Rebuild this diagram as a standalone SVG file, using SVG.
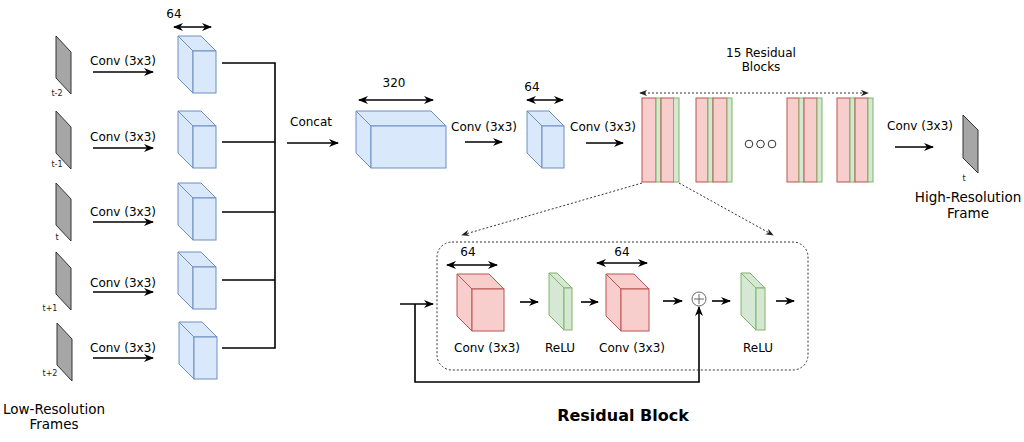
<svg xmlns="http://www.w3.org/2000/svg" width="1024" height="442" viewBox="0 0 1024 442">
<defs>
<marker id="ah" viewBox="0 0 10 8" refX="9" refY="4" markerWidth="10" markerHeight="8" markerUnits="userSpaceOnUse" orient="auto-start-reverse"><path d="M0,0 L10,4 L0,8 L3,4 z" fill="#000"/></marker>
<marker id="ahs" viewBox="0 0 10 8" refX="9" refY="4" markerWidth="8" markerHeight="6.4" markerUnits="userSpaceOnUse" orient="auto-start-reverse"><path d="M0,0 L10,4 L0,8 L3,4 z" fill="#222"/></marker>
</defs>
<style>
text{font-family:"DejaVu Sans","Liberation Sans",sans-serif;fill:#000}
.lbl{font-size:12px}
.big{font-size:13.5px}
.tiny{font-size:8px;fill:#222}
.blue{fill:#dae8fc;stroke:#6c8ebf;stroke-width:1}
.red{fill:#f8cecc;stroke:#b85450;stroke-width:1}
.green{fill:#d5e8d4;stroke:#82b366;stroke-width:1}
.frame{fill:#a6a6a6;stroke:#333;stroke-width:1}
.ar{stroke:#000;stroke-width:1.6;fill:none;marker-end:url(#ah)}
.dar{stroke:#000;stroke-width:1.6;fill:none;marker-start:url(#ah);marker-end:url(#ah)}
.ln{stroke:#000;stroke-width:1.6;fill:none}
.dot{stroke:#333;stroke-width:1;fill:none;stroke-dasharray:2,2}
</style>
<rect width="1024" height="442" fill="#fff"/>

<g id="connectors">
  <path class="ar" d="M93,72 H153"/>
  <path class="ar" d="M93,148 H153"/>
  <path class="ar" d="M93,222 H153"/>
  <path class="ar" d="M93,292 H153"/>
  <path class="ar" d="M93,358 H153"/>
  <path class="ln" d="M222,63 H275 M222,142 H275 M222,212 H275 M222,280 H275 M222,348 H275 M275,62.2 V348.8"/>
  <path class="ar" d="M287,143 H338"/>
  <path class="ar" d="M465,142 H502"/>
  <path class="ar" d="M586,143 H623"/>
  <path class="ar" d="M895,147 H933"/>
  <path class="dot" d="M642,183 L462,235" marker-end="url(#ahs)"/>
  <path class="dot" d="M679,183 L773,235" marker-end="url(#ahs)"/>
  <path class="ar" d="M520,302 H538"/>
  <path class="ar" d="M581,302 H598"/>
  <path class="ar" d="M663,301 H682"/>
  <path class="ar" d="M712,301 H730"/>
  <path class="ar" d="M776,301 H794"/>
  <path class="ar" d="M400,304 H433"/>
  <path class="ar" d="M415,304 V382 H699 V307"/>
</g>

<g id="dims">
  <text class="lbl" x="174" y="18" text-anchor="middle">64</text>
  <path class="dar" d="M174,27 H211"/>
  <text class="lbl" x="394" y="87" text-anchor="middle">320</text>
  <path class="dar" d="M359,100 H433"/>
  <text class="lbl" x="532" y="91" text-anchor="middle">64</text>
  <path class="dar" d="M527,100 H563"/>
  <text class="lbl" x="761" y="57" text-anchor="middle">15 Residual</text>
  <text class="lbl" x="761" y="71" text-anchor="middle">Blocks</text>
  <path class="dot" d="M640,93 H868" marker-start="url(#ahs)" marker-end="url(#ahs)"/>
</g>

<g id="conv-labels">
  <text class="lbl" x="90" y="65">Conv (3x3)</text>
  <text class="lbl" x="90" y="141">Conv (3x3)</text>
  <text class="lbl" x="90" y="216">Conv (3x3)</text>
  <text class="lbl" x="90" y="287">Conv (3x3)</text>
  <text class="lbl" x="90" y="352">Conv (3x3)</text>
  <text class="lbl" x="290" y="126">Concat</text>
  <text class="lbl" x="451" y="131">Conv (3x3)</text>
  <text class="lbl" x="570" y="131">Conv (3x3)</text>
  <text class="lbl" x="887" y="130">Conv (3x3)</text>
</g>

<g id="lr-frames">
  <polygon class="frame" points="56,36 71,52 71,94 56,78"/>
  <text class="tiny" x="57" y="96" text-anchor="middle">t-2</text>
  <polygon class="frame" points="56,111 71,127 71,169 56,153"/>
  <text class="tiny" x="57" y="167" text-anchor="middle">t-1</text>
  <polygon class="frame" points="56,183 71,199 71,241 56,225"/>
  <text class="tiny" x="57" y="240" text-anchor="middle">t</text>
  <polygon class="frame" points="56,252 71,268 71,310 56,294"/>
  <text class="tiny" x="50" y="311" text-anchor="middle">t+1</text>
  <polygon class="frame" points="57,323 72,339 72,381 57,365"/>
  <text class="tiny" x="50" y="376" text-anchor="middle">t+2</text>
  <text class="big" x="54" y="414" text-anchor="middle">Low-Resolution</text>
  <text class="big" x="54" y="429" text-anchor="middle">Frames</text>
</g>

<g id="cube1">
  <polygon class="blue" points="178,36 201,36 216,51 193,51"/>
  <polygon class="blue" points="178,36 193,51 193,93 178,78"/>
  <rect class="blue" x="193" y="51" width="23" height="42"/>
</g>
<g id="cube2">
  <polygon class="blue" points="178,111 201,111 216,126 193,126"/>
  <polygon class="blue" points="178,111 193,126 193,168 178,153"/>
  <rect class="blue" x="193" y="126" width="23" height="42"/>
</g>
<g id="cube3">
  <polygon class="blue" points="178,183 201,183 216,198 193,198"/>
  <polygon class="blue" points="178,183 193,198 193,240 178,225"/>
  <rect class="blue" x="193" y="198" width="23" height="42"/>
</g>
<g id="cube4">
  <polygon class="blue" points="178,252 201,252 216,267 193,267"/>
  <polygon class="blue" points="178,252 193,267 193,309 178,294"/>
  <rect class="blue" x="193" y="267" width="23" height="42"/>
</g>
<g id="cube5">
  <polygon class="blue" points="179,322 202,322 217,337 194,337"/>
  <polygon class="blue" points="179,322 194,337 194,379 179,364"/>
  <rect class="blue" x="194" y="337" width="23" height="42"/>
</g>

<g id="concat-cube">
  <polygon class="blue" points="356,111 431,111 446,126 371,126"/>
  <polygon class="blue" points="356,111 371,126 371,168 356,153"/>
  <rect class="blue" x="371" y="126" width="75" height="42"/>
</g>
<g id="conv-cube">
  <polygon class="blue" points="527,111 549,111 564,126 542,126"/>
  <polygon class="blue" points="527,111 542,126 542,168 527,153"/>
  <rect class="blue" x="542" y="126" width="22" height="42"/>
</g>

<g id="res-blocks">
  <g id="rb1">
    <rect class="red" x="642" y="98" width="14" height="84"/>
    <rect class="green" x="656" y="98" width="5" height="84"/>
    <rect class="red" x="661" y="98" width="12.5" height="84"/>
    <rect class="green" x="673.5" y="98" width="5.5" height="84"/>
  </g>
  <g id="rb2">
    <rect class="red" x="696" y="98" width="12" height="84"/>
    <rect class="green" x="708" y="98" width="5" height="84"/>
    <rect class="red" x="713" y="98" width="14" height="84"/>
    <rect class="green" x="727" y="98" width="5" height="84"/>
  </g>
  <g id="ellipsis" fill="none" stroke="#333" stroke-width="1">
    <circle cx="749" cy="144" r="3.8"/>
    <circle cx="760.5" cy="144" r="3.8"/>
    <circle cx="772" cy="144" r="3.8"/>
  </g>
  <g id="rb3">
    <rect class="red" x="787" y="98" width="12" height="84"/>
    <rect class="green" x="799" y="98" width="5" height="84"/>
    <rect class="red" x="804" y="98" width="13" height="84"/>
    <rect class="green" x="817" y="98" width="5" height="84"/>
  </g>
  <g id="rb4">
    <rect class="red" x="837" y="98" width="13" height="84"/>
    <rect class="green" x="850" y="98" width="5" height="84"/>
    <rect class="red" x="855" y="98" width="13" height="84"/>
    <rect class="green" x="868" y="98" width="5" height="84"/>
  </g>
</g>

<g id="hr-frame">
  <polygon class="frame" points="963,115 978,130 978,173 963,158"/>
  <text class="tiny" x="964" y="181" text-anchor="middle">t</text>
  <text class="big" x="968" y="202" text-anchor="middle">High-Resolution</text>
  <text class="big" x="968" y="218" text-anchor="middle">Frame</text>
</g>

<g id="residual-block">
  <rect class="dot" x="437" y="242" width="371" height="128" rx="15" ry="15"/>
  <text class="lbl" x="468" y="256" text-anchor="middle">64</text>
  <path class="dar" d="M447,265 H497"/>
  <text class="lbl" x="622" y="256" text-anchor="middle">64</text>
  <path class="dar" d="M597,263 H647"/>
  <g id="rconv1">
    <polygon class="red" points="457,274 489,274 504,289 472,289"/>
    <polygon class="red" points="457,274 472,289 472,331 457,316"/>
    <rect class="red" x="472" y="289" width="32" height="42"/>
    <text class="lbl" x="487" y="352" text-anchor="middle">Conv (3x3)</text>
  </g>
  <g id="relu1">
    <polygon class="green" points="549,273 557,273 572,288 564,288"/>
    <polygon class="green" points="549,273 564,288 564,330 549,315"/>
    <rect class="green" x="564" y="288" width="8" height="42"/>
    <text class="lbl" x="560" y="352" text-anchor="middle">ReLU</text>
  </g>
  <g id="rconv2">
    <polygon class="red" points="606,274 634,274 649,289 621,289"/>
    <polygon class="red" points="606,274 621,289 621,331 606,316"/>
    <rect class="red" x="621" y="289" width="28" height="42"/>
    <text class="lbl" x="632" y="352" text-anchor="middle">Conv (3x3)</text>
  </g>
  <g id="add">
    <circle cx="699" cy="299" r="7" fill="#fff" stroke="#666" stroke-width="1"/>
    <path d="M694,299 H704 M699,294 V304" stroke="#666" stroke-width="1"/>
  </g>
  <g id="relu2">
    <polygon class="green" points="741,273 750,273 765,288 756,288"/>
    <polygon class="green" points="741,273 756,288 756,330 741,315"/>
    <rect class="green" x="756" y="288" width="9" height="42"/>
    <text class="lbl" x="758" y="352" text-anchor="middle">ReLU</text>
  </g>
  <text x="623" y="421" text-anchor="middle" font-size="16" font-weight="bold">Residual Block</text>
</g>
</svg>
